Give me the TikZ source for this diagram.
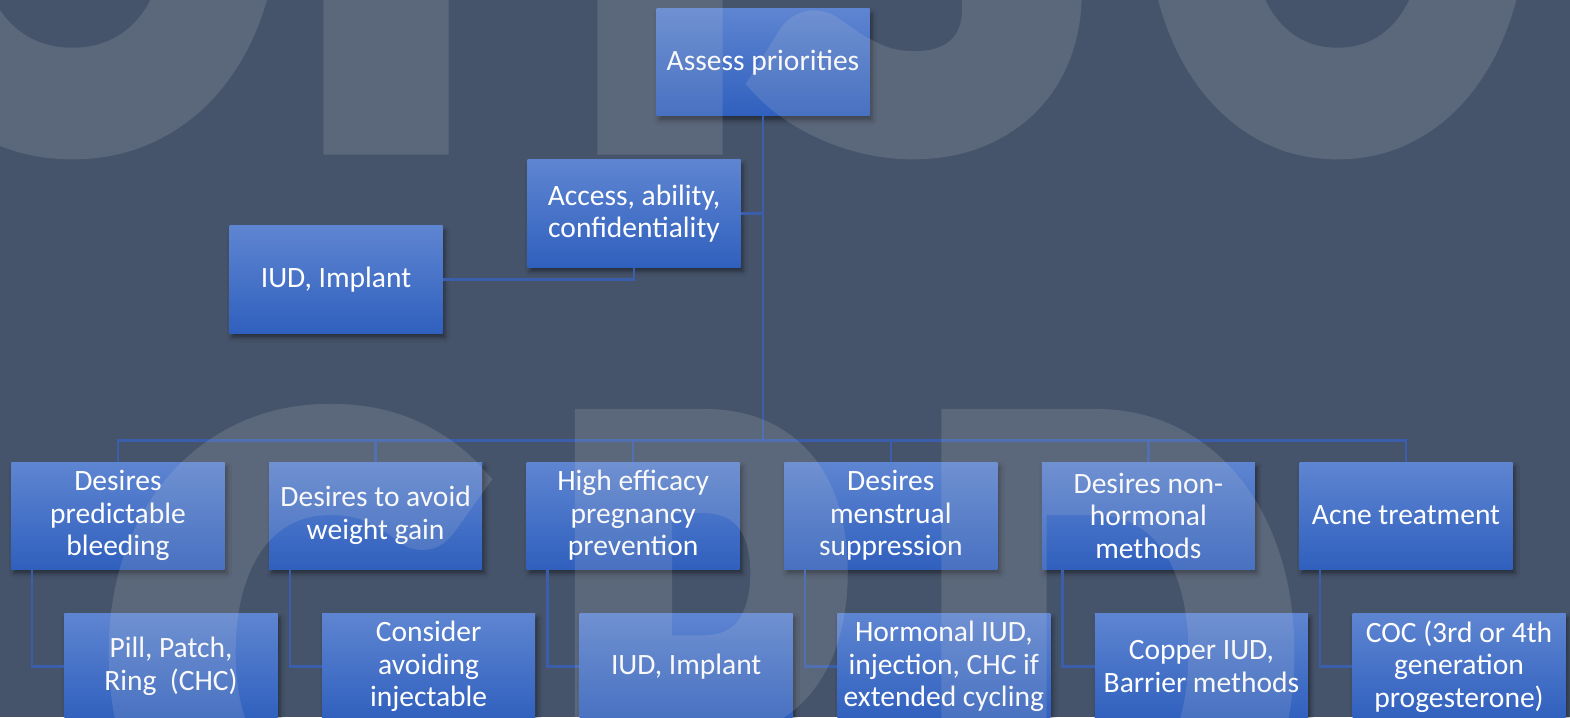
\documentclass[tikz,border=0pt]{standalone}
\usepackage{fontspec}
\setmainfont{Carlito}
\newfontfamily\wmfont[FakeBold=5]{Carlito}
\usepackage{xcolor}
\usepackage{graphicx}
\usepackage{tikz}
\usetikzlibrary{shadows.blur}
\definecolor{slate}{RGB}{70,84,107}
\definecolor{boxtop}{RGB}{94,133,209}
\definecolor{boxbot}{RGB}{48,96,190}
\definecolor{linkblue}{RGB}{58,94,172}
\definecolor{wmgray}{RGB}{215,215,215}

\begin{document}
\begin{tikzpicture}[x=0.2mm,y=-0.2mm,
  box/.style={rectangle,minimum width=42.6mm,minimum height=21.4mm,inner sep=1mm,
    top color=boxtop,bottom color=boxbot,text=white,align=center,
    font=\fontsize{16.8pt}{18.5pt}\selectfont,
    blur shadow={shadow xshift=0.5mm,shadow yshift=-0.9mm,shadow blur radius=0.9mm,shadow opacity=45}},
  link/.style={draw=linkblue,line width=0.5mm},
  letter/.style={anchor=base,inner sep=0,text=wmgray,
    font=\wmfont\bfseries\fontsize{398pt}{398pt}\selectfont}]
  \useasboundingbox (0,0) rectangle (1570,717);
  \fill[slate] (0,0) rectangle (1570,717);

  \node[box] (assess) at (763,62.5) {Assess priorities};
  \node[box] (access) at (634,213.5) {Access, ability,\\confidentiality};
  \node[box] (iud) at (336,279.5) {IUD, Implant};

  \node[box] (d1) at (118,515.5) {Desires\\predictable\\bleeding};
  \node[box] (d2) at (375.6,515.5) {Desires to avoid\\weight gain};
  \node[box] (d3) at (633.2,515.5) {High efficacy\\pregnancy\\prevention};
  \node[box] (d4) at (890.8,515.5) {Desires\\menstrual\\suppression};
  \node[box] (d5) at (1148.4,515.5) {Desires non-\\hormonal\\methods};
  \node[box] (d6) at (1406,515.5) {Acne treatment};

  \node[box] (c1) at (171,666.5) {Pill, Patch,\\Ring\ \ (CHC)};
  \node[box] (c2) at (428.6,666.5) {Consider\\avoiding\\injectable};
  \node[box] (c3) at (686.2,666.5) {IUD, Implant};
  \node[box] (c4) at (943.8,666.5) {Hormonal IUD,\\injection, CHC if\\extended cycling};
  \node[box] (c5) at (1201.4,666.5) {Copper IUD,\\Barrier methods};
  \node[box] (c6) at (1459,666.5) {COC (3rd or 4th\\generation\\progesterone)};

  \draw[link] (access.east) -| (assess.south);
  \draw[link] (access.south) |- (iud.east);
  \draw[link] (assess.south) -- ++(0,324) -| (d1.north);
  \draw[link] (assess.south) -- ++(0,324) -| (d2.north);
  \draw[link] (assess.south) -- ++(0,324) -| (d3.north);
  \draw[link] (assess.south) -- ++(0,324) -| (d4.north);
  \draw[link] (assess.south) -- ++(0,324) -| (d5.north);
  \draw[link] (assess.south) -- ++(0,324) -| (d6.north);
  \draw[link] ([xshift=4.2mm]d1.south west) |- (c1.west);
  \draw[link] ([xshift=4.2mm]d2.south west) |- (c2.west);
  \draw[link] ([xshift=4.2mm]d3.south west) |- (c3.west);
  \draw[link] ([xshift=4.2mm]d4.south west) |- (c4.west);
  \draw[link] ([xshift=4.2mm]d5.south west) |- (c5.west);
  \draw[link] ([xshift=4.2mm]d6.south west) |- (c6.west);

  \begin{scope}[transparency group,opacity=0.15]
    \clip (0,0) rectangle (1570,717);
    \node[letter] (wo) at (72,137) {\scalebox{0.87}[1]{O}};
    \node[letter] (wh) at (523,137) {H};
    \node[letter] (ws) at (920,137) {S};
    \node[letter] (wq) at (1337,137) {\scalebox{0.8}[1]{O}};
    \node[letter] (wc) at (297,880) {C};
    \node[letter] (wp) at (703,880) {\scalebox{0.78}[1]{P}};
    \node[letter] (wd) at (1108,880) {\scalebox{0.84}[1]{D}};
  \end{scope}
\end{tikzpicture}
\end{document}
